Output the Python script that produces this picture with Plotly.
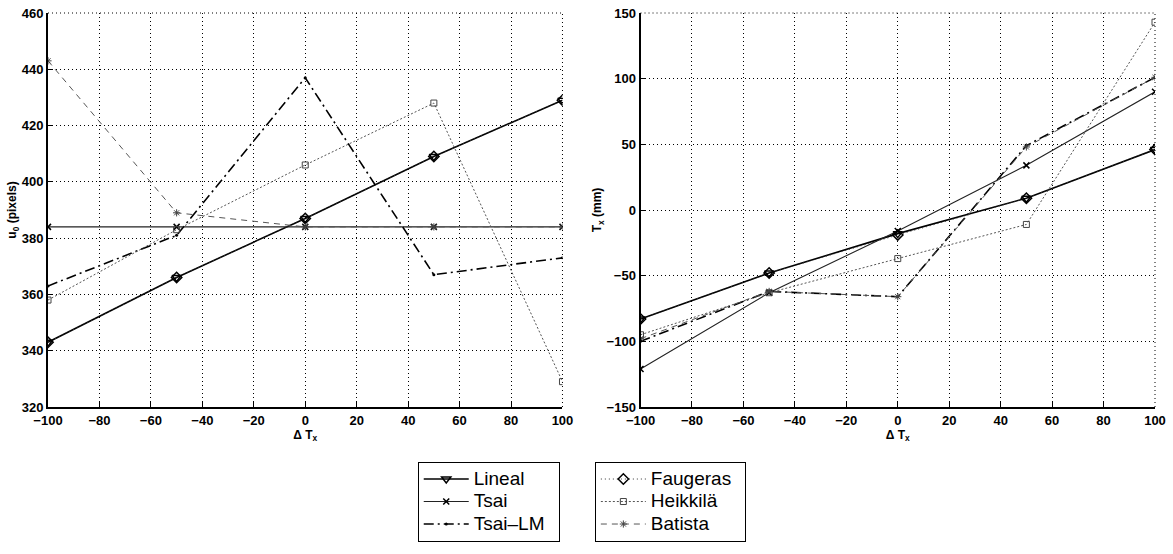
import plotly.graph_objects as go
from plotly.subplots import make_subplots

dTx = [-100, -50, 0, 50, 100]

# Left panel: u0 (pixels)
u0_lineal   = [343, 366, 387, 409, 429]
u0_tsai     = [384, 384, 384, 384, 384]
u0_tsailm   = [363, 381, 437, 367, 373]
u0_faugeras = [343, 366, 387, 409, 429]
u0_heikkila = [358, 383, 406, 428, 329]
u0_batista  = [443, 389, 384, 384, 384]

# Right panel: Tx (mm)
tx_lineal   = [-83, -48, -18, 9, 46]
tx_tsai     = [-121, -63, -16, 34, 90]
tx_tsailm   = [-100, -62, -66, 49, 101]
tx_faugeras = [-83, -48, -19, 9, 46]
tx_heikkila = [-95, -63, -37, -11, 143]
tx_batista  = [-98, -62, -66, 48, 101]

names = ["Lineal", "Tsai", "Tsai\u2013LM", "Faugeras", "Heikkil\u00e4", "Batista"]
left_series = [u0_lineal, u0_tsai, u0_tsailm, u0_faugeras, u0_heikkila, u0_batista]
right_series = [tx_lineal, tx_tsai, tx_tsailm, tx_faugeras, tx_heikkila, tx_batista]

styles = [
    dict(line=dict(color="black", width=1.6, dash="solid"),
         marker=dict(symbol="triangle-down-open", size=8, color="black", line=dict(width=1.5))),
    dict(line=dict(color="#222", width=1.1, dash="solid"),
         marker=dict(symbol="x-thin-open", size=6, color="black", line=dict(width=1.5))),
    dict(line=dict(color="black", width=1.6, dash="10px,4px,2px,4px"),
         marker=dict(symbol="circle", size=3, color="black")),
    dict(line=dict(color="#333", width=1.0, dash="1px,3px"),
         marker=dict(symbol="diamond-open", size=8, color="black", line=dict(width=1.5))),
    dict(line=dict(color="#555", width=1.0, dash="2px,2px"),
         marker=dict(symbol="square-open", size=6, color="#444", line=dict(width=1))),
    dict(line=dict(color="#555", width=1.0, dash="6px,5px"),
         marker=dict(symbol="asterisk-open", size=6, color="#444", line=dict(width=1))),
]

fig = make_subplots(rows=1, cols=2, horizontal_spacing=0.0705)

for i, (nm, ys, st) in enumerate(zip(names, left_series, styles)):
    fig.add_trace(go.Scatter(x=dTx, y=ys,
                             name="<span style='font-size:19px'>%s</span>\u00a0\u00a0" % nm,
                             mode="lines+markers",
                             line=st["line"], marker=st["marker"],
                             legend="legend" if i < 3 else "legend2",
                             showlegend=True), row=1, col=1)
for i, (nm, ys, st) in enumerate(zip(names, right_series, styles)):
    fig.add_trace(go.Scatter(x=dTx, y=ys, name=nm, mode="lines+markers",
                             line=st["line"], marker=st["marker"],
                             showlegend=False), row=1, col=2)

tickfont = dict(family="Liberation Sans", size=13, color="black", weight="bold")
titlefont = dict(family="Liberation Sans", size=12, color="black", weight="bold")

axcommon = dict(showline=True, linecolor="black", linewidth=2, mirror=False,
                ticks="inside", ticklen=5, tickcolor="black", tickwidth=1,
                showgrid=True, gridcolor="black", gridwidth=1, griddash="1px,3px",
                zeroline=False, tickfont=tickfont, automargin=False,
                ticklabeloverflow="allow")

fig.update_xaxes(range=[-100, 100], dtick=20, tick0=-100,
                 title=dict(text="\u0394 T<sub>x</sub>", font=titlefont, standoff=2),
                 **axcommon)
fig.update_yaxes(range=[320, 460], dtick=20, row=1, col=1,
                 title=dict(text="u<sub>0</sub> (pixels)", font=titlefont, standoff=2),
                 **axcommon)
fig.update_yaxes(range=[-150, 150], dtick=50, row=1, col=2,
                 title=dict(text="T<sub>x</sub> (mm)", font=titlefont, standoff=2),
                 **axcommon)

# dotted top / right frame lines
for xref, yref in [("x", "y"), ("x2", "y2")]:
    fig.add_shape(type="line", xref=xref + " domain", yref=yref + " domain",
                  x0=0, x1=1, y0=1, y1=1, line=dict(color="black", width=1, dash="1px,3px"))
    fig.add_shape(type="line", xref=xref + " domain", yref=yref + " domain",
                  x0=1, x1=1, y0=0, y1=1, line=dict(color="black", width=1, dash="1px,3px"))

legfont = dict(family="Liberation Sans", size=15, color="black")
fig.update_layout(
    width=1173, height=554,
    margin=dict(l=48, r=18, t=13, b=138),
    plot_bgcolor="white", paper_bgcolor="white",
    legend=dict(x=0.334, y=-0.139, xanchor="left", yanchor="top",
                bordercolor="black", borderwidth=1, font=legfont,
                bgcolor="white", tracegroupgap=0, itemwidth=45),
    legend2=dict(x=0.494, y=-0.139, xanchor="left", yanchor="top",
                 bordercolor="black", borderwidth=1, font=legfont,
                 bgcolor="white", tracegroupgap=0, itemwidth=45),
)

fig.write_html("out.html", config={"displayModeBar": False},
               post_script="document.body.style.margin='0px';document.body.style.padding='0px';")
